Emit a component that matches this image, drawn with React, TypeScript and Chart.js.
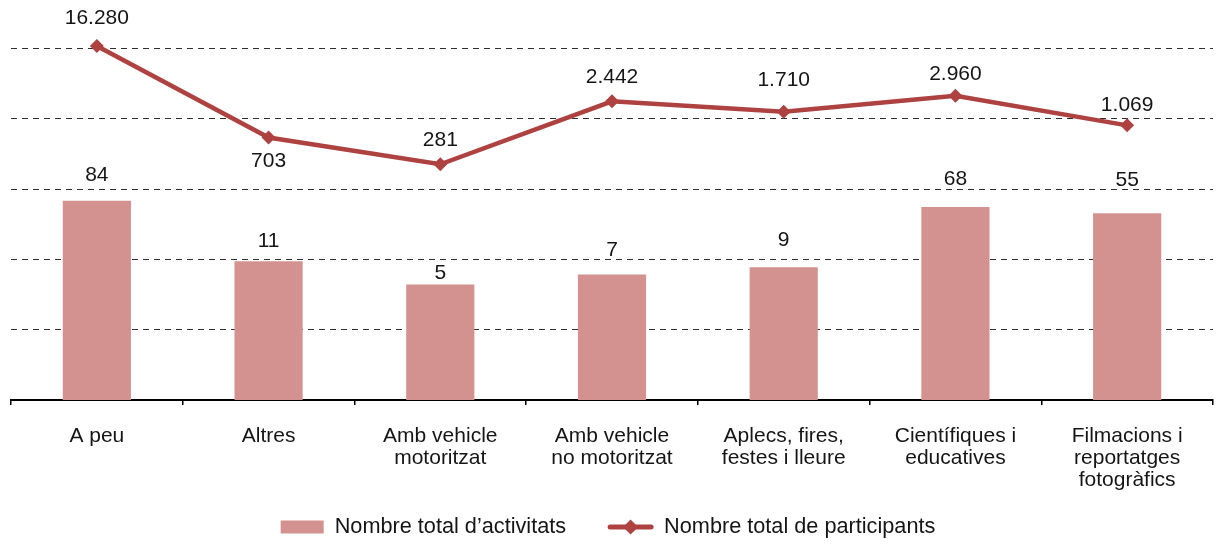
import React, { useEffect, useRef } from 'react';
import { Chart, registerables } from 'chart.js';
Chart.register(...registerables);

const categories: string[][] = [
  ['A peu'],
  ['Altres'],
  ['Amb vehicle', 'motoritzat'],
  ['Amb vehicle', 'no motoritzat'],
  ['Aplecs, fires,', 'festes i lleure'],
  ['Científiques i', 'educatives'],
  ['Filmacions i', 'reportatges', 'fotogràfics'],
];
const activitats = [84, 11, 5, 7, 9, 68, 55];
const participants = [16280, 703, 281, 2442, 1710, 2960, 1069];
const seriesNames = ['Nombre total d\u2019activitats', 'Nombre total de participants'];

// label placement (pixels above/below each mark, as in the original layout)
const barLabelGap = [25, 20, 11, 24, 27, 28, 33];
const lineLabelGap = [-28, 24, -24, -24, -31, -21, -20];

const FONT = '"Liberation Sans", Arial, Helvetica, sans-serif';
const BAR_COLOR = '#D39290';
const LINE_COLOR = '#AD4240';
const TEXT_COLOR = '#151515';

const fmt = (v: number) => String(v).replace(/\B(?=(\d{3})+(?!\d))/g, '.');

const labelsPlugin = {
  id: 'valueLabels',
  afterDatasetsDraw(chart: any) {
    const ctx = chart.ctx;
    ctx.save();
    ctx.font = `21px ${FONT}`;
    ctx.fillStyle = TEXT_COLOR;
    ctx.textAlign = 'center';
    ctx.textBaseline = 'middle';
    const barMeta = chart.getDatasetMeta(0);
    barMeta.data.forEach((el: any, i: number) => {
      ctx.fillText(fmt(activitats[i]), el.x, el.y - barLabelGap[i]);
    });
    const lineMeta = chart.getDatasetMeta(1);
    lineMeta.data.forEach((el: any, i: number) => {
      ctx.fillText(fmt(participants[i]), el.x, el.y + lineLabelGap[i]);
    });
    ctx.restore();
  },
};

const legendPlugin = {
  id: 'customLegend',
  afterDraw(chart: any) {
    const ctx = chart.ctx;
    ctx.save();
    ctx.font = `21.7px ${FONT}`;
    ctx.textBaseline = 'middle';
    ctx.textAlign = 'left';
    const y = 527;
    const boxW = 43;
    const lineW = 45;
    const gapIcon = 11;
    const gapItems = 42;
    const w1 = ctx.measureText(seriesNames[0]).width;
    const w2 = ctx.measureText(seriesNames[1]).width;
    const total = boxW + gapIcon + w1 + gapItems + lineW + gapIcon + w2;
    let x = 608 - total / 2;
    ctx.fillStyle = BAR_COLOR;
    ctx.fillRect(x, y - 6.5, boxW, 13);
    x += boxW + gapIcon;
    ctx.fillStyle = TEXT_COLOR;
    ctx.fillText(seriesNames[0], x, y);
    x += w1 + gapItems;
    ctx.strokeStyle = LINE_COLOR;
    ctx.lineWidth = 5;
    ctx.lineCap = 'round';
    ctx.beginPath();
    ctx.moveTo(x + 2, y);
    ctx.lineTo(x + lineW - 2, y);
    ctx.stroke();
    const cx = x + lineW / 2;
    ctx.fillStyle = LINE_COLOR;
    ctx.beginPath();
    ctx.moveTo(cx, y - 7.5);
    ctx.lineTo(cx + 7.5, y);
    ctx.lineTo(cx, y + 7.5);
    ctx.lineTo(cx - 7.5, y);
    ctx.closePath();
    ctx.fill();
    x += lineW + gapIcon;
    ctx.fillStyle = TEXT_COLOR;
    ctx.fillText(seriesNames[1], x, y);
    ctx.restore();
  },
};

export default function App() {
  const ref = useRef<HTMLCanvasElement | null>(null);
  useEffect(() => {
    if (!ref.current) return;
    const chart = new Chart(ref.current, {
      type: 'bar',
      data: {
        labels: categories as any,
        datasets: [
          {
            type: 'bar',
            label: seriesNames[0],
            data: activitats,
            backgroundColor: BAR_COLOR,
            borderWidth: 0,
            yAxisID: 'y',
            categoryPercentage: 1,
            barPercentage: 0.397,
            order: 1,
          } as any,
          {
            type: 'line',
            label: seriesNames[1],
            data: participants,
            borderColor: LINE_COLOR,
            backgroundColor: LINE_COLOR,
            borderWidth: 4.5,
            pointStyle: 'rectRot',
            pointRadius: 7,
            pointBorderWidth: 0,
            pointBackgroundColor: LINE_COLOR,
            tension: 0,
            clip: false,
            yAxisID: 'y1',
            order: 0,
          } as any,
        ],
      },
      options: {
        animation: false,
        responsive: false,
        devicePixelRatio: 1,
        layout: { padding: { left: 11, right: 2, top: 48.5, bottom: 0 } },
        plugins: {
          legend: { display: false },
          tooltip: { enabled: false },
        },
        scales: {
          x: {
            type: 'category',
            offset: true,
            grid: {
              offset: true,
              drawOnChartArea: false,
              drawTicks: true,
              tickLength: 5,
              color: '#000',
              lineWidth: 1.5,
            },
            border: { display: true, color: '#000', width: 2 },
            ticks: {
              font: { family: FONT, size: 21, lineHeight: 1.06 },
              color: TEXT_COLOR,
              padding: 20,
              maxRotation: 0,
              minRotation: 0,
              autoSkip: false,
            },
            afterFit: (s: any) => {
              s.height = 144;
            },
          },
          yg: {
            type: 'linear',
            position: 'left',
            min: 0,
            max: 5,
            ticks: { display: false, stepSize: 1 },
            grid: {
              drawTicks: false,
              lineWidth: 1,
              color: (c: any) => (c.tick && c.tick.value === 0 ? 'rgba(0,0,0,0)' : '#2e2e2e'),
            },
            border: { display: false, dash: [6, 5] },
            afterFit: (s: any) => {
              s.width = 0;
            },
          },
          y: {
            type: 'logarithmic',
            display: false,
            min: 0.1034,
            max: 13996,
          },
          y1: {
            type: 'logarithmic',
            display: false,
            min: 0.0863,
            max: 14940,
          },
        } as any,
      },
      plugins: [labelsPlugin, legendPlugin],
    });
    return () => chart.destroy();
  }, []);
  return (
    <div
      style={{
        position: 'fixed',
        left: 0,
        top: 0,
        width: 1217,
        height: 544,
        overflow: 'hidden',
        background: '#fff',
      }}
    >
      <canvas ref={ref} width={1220} height={544} style={{ width: 1220, height: 544, display: 'block' }} />
    </div>
  );
}
